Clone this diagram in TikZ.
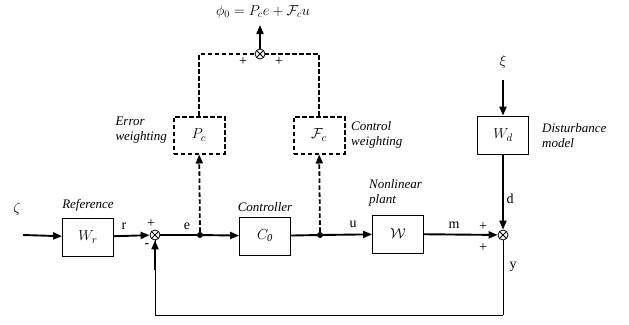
\documentclass[tikz,border=0pt]{standalone}
\usepackage{fontspec}
\setmainfont{Liberation Serif}
\usetikzlibrary{arrows.meta,positioning}

\begin{document}
\begin{tikzpicture}[x=1pt,y=-1pt,>={Triangle[length=9pt,width=7pt]},
    block/.style={draw,line width=0.8pt,minimum width=51pt,minimum height=38pt,
      font=\fontsize{15}{17}\selectfont},
    wblock/.style={draw=black,line width=2pt,dash pattern=on 4.5pt off 2.5pt,
      minimum width=51pt,minimum height=37pt,font=\fontsize{15}{17}\selectfont},
    sumj/.style={circle,draw,line width=0.8pt,minimum size=10pt,inner sep=0pt,
      path picture={\draw[line width=0.8pt]
        (path picture bounding box.north west)--(path picture bounding box.south east)
        (path picture bounding box.north east)--(path picture bounding box.south west);}},
    dot/.style={circle,fill,inner sep=0pt,minimum size=6pt},
    sig/.style={line width=1.9pt},
    dsig/.style={line width=1.8pt,dash pattern=on 4.5pt off 2.5pt},
    lbl/.style={font=\fontsize{13}{15}\selectfont\itshape,align=left,inner sep=0pt},
    tag/.style={font=\fontsize{14}{16}\selectfont,inner sep=0pt}]
  \useasboundingbox (0,0) rectangle (629,324);

  % main loop
  \coordinate (in) at (23,235);
  \node[block] (wr) at (88,237) {$W_r$};
  \node[sumj] (s1) at (155,235) {};
  \node[dot] (de) at (200,235) {};
  \node[block] (c0) at (265,236) {$C_{\mathit{0}}$};
  \node[dot] (du) at (320,235) {};
  \node[block] (w) at (398,234) {$\mathcal{W}$};
  \node[sumj] (s2) at (503,235) {};
  \node[block] (wd) at (503,135) {$W_d$};
  \coordinate (xi) at (503,80);
  \coordinate (fb) at (503,315);

  % weighting branches
  \node[wblock] (pc) at (199,135) {$P_c$};
  \node[wblock] (fc) at (319,135) {$\mathcal{F}_c$};
  \node[sumj] (s3) at (260,54) {};
  \coordinate (out) at (260,25);

  \draw[sig,->] (in) -- (wr);
  \draw[sig,->] (wr) -- (s1);
  \draw[sig] (s1) -- (de);
  \draw[sig,->] (de) -- (c0);
  \draw[sig] (c0) -- (du);
  \draw[sig,->] (du) -- (w);
  \draw[sig,->] (w) -- (s2);
  \draw[sig,->] (xi) -- (wd);
  \draw[sig,->] (wd) -- (s2);
  \draw[line width=1pt] (s2) -- (fb);
  \draw[line width=1pt] (fb) -| (s1);
  \draw[sig,->] ([yshift=-30pt]s1.south) -- (s1);

  \draw[dsig,->] (de) -- (pc);
  \draw[dsig,->] (du) -- (fc);
  \draw[dsig] (pc) |- (s3);
  \draw[dsig] (fc) |- (s3);
  \draw[sig,->] (s3) -- (out);

  % texts
  \node[tag] at (17,209) {$\zeta$};
  \node[tag] at (503,62) {$\xi$};
  \node[tag] at (263,12) {$\phi_0 = P_c e + \mathcal{F}_c u$};
  \node[lbl] (reflbl) at (88,205) {Reference};
  \node[lbl] (ctrllbl) at (265,207) {Controller};
  \node[lbl,anchor=west] (plantlbl) at (369,193) {Nonlinear\\plant};
  \node[lbl,anchor=west] (distlbl) at (542,136) {Disturbance\\model};
  \node[lbl,anchor=east] (errlbl) at (167,130) {Error\\weighting};
  \node[lbl,anchor=west] (cwlbl) at (351,135) {Control\\weighting};
  \node[tag] at (124,226) {r};
  \node[tag] at (187,226) {e};
  \node[tag] at (353,224) {u};
  \node[tag] at (454,225) {m};
  \node[tag] at (510,199) {d};
  \node[tag] at (513,267) {y};
  \node[tag] at (151,224) {+};
  \node[tag] at (147,246) {-};
  \node[tag] at (483,227) {+};
  \node[tag] at (483,248) {+};
  \node[tag] at (243,62) {+};
  \node[tag] at (279,62) {+};
\end{tikzpicture}
\end{document}
